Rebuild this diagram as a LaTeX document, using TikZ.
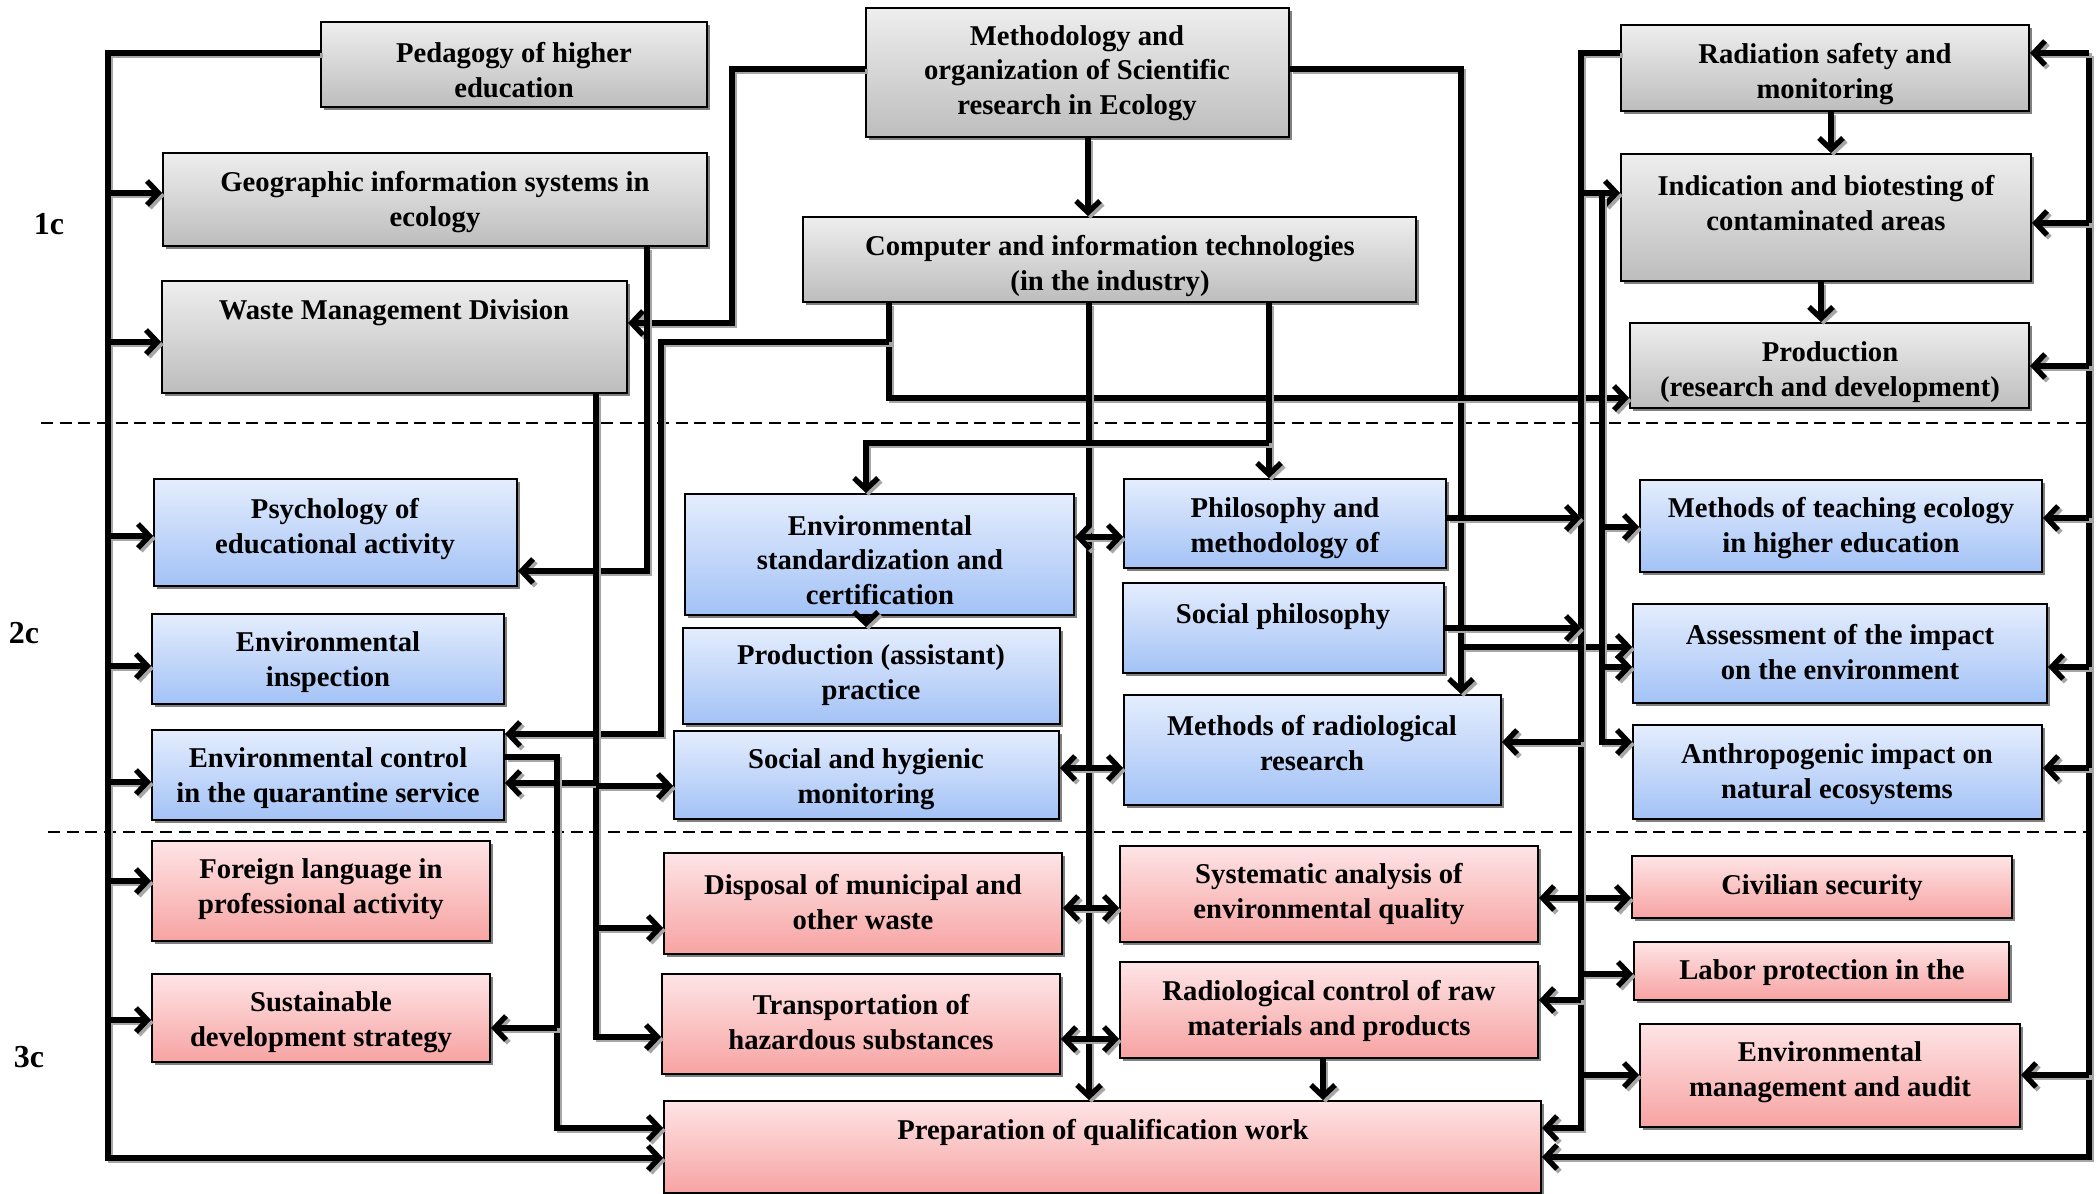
\documentclass[tikz,border=0pt]{standalone}
\usepackage{fontspec}
\setmainfont{Liberation Serif}
\usetikzlibrary{arrows.meta,fit,shadows,calc}
\definecolor{gTop}{HTML}{EEEEEE}
\definecolor{gBot}{HTML}{BDBDBD}
\definecolor{bTop}{HTML}{E4EDFD}
\definecolor{bBot}{HTML}{A3C2F6}
\definecolor{pTop}{HTML}{FEE4E6}
\definecolor{pBot}{HTML}{F7A3A2}
\tikzset{
  x=0.75pt, y=-0.75pt,
  >={Straight Barb[length=8.5pt,width=18pt]},
  bx/.style={draw=black, line width=1.5pt, inner sep=0pt,
    drop shadow={shadow xshift=2.4pt, shadow yshift=-2.4pt, fill=black!50, opacity=1}},
  gbox/.style={bx, top color=gTop, bottom color=gBot},
  bbox/.style={bx, top color=bTop, bottom color=bBot},
  pbox/.style={bx, top color=pTop, bottom color=pBot},
  txt/.style={font=\fontsize{21.5}{26}\selectfont\bfseries, align=center, inner sep=0pt, yshift=-2.2pt},
  lbl/.style={font=\fontsize{24}{27}\selectfont\bfseries, inner sep=0pt},
  ln/.style={line width=4pt, preaction={draw=black!35, line width=4pt, transform canvas={shift={(2pt,-2pt)}}}},
  arr/.style={ln, ->},
  darr/.style={ln, <->},
  sep/.style={line width=1pt, dash pattern=on 9pt off 5pt}
}
\begin{document}
\begin{tikzpicture}
\useasboundingbox (0,0) rectangle (2096,1194);
\fill[white] (0,0) rectangle (2096,1194);

% separators
\draw[sep] (41,423) -- (2092,423);
\draw[sep] (48,832) -- (2092,832);

% level labels
\node[lbl] (l1) at (49,224) {1c};
\node[lbl] (l2) at (24,633) {2c};
\node[lbl] (l3) at (29,1057) {3c};

% ---------- level 1 (gray)
\node[gbox, fit={(321,22) (707,107)}] (ped) {};
\node[txt] (ped-t) at (514,67) {Pedagogy of higher\\education};
\node[gbox, fit={(866,8) (1289,137)}] (meth) {};
\node[txt] (meth-t) at (1077,70) {Methodology and\\organization of Scientific\\research in Ecology};
\node[gbox, fit={(163,153) (707,246)}] (geo) {};
\node[txt] (geo-t) at (435,199) {Geographic information systems in\\ecology};
\node[gbox, fit={(803,217) (1416,302)}] (comp) {};
\node[txt] (comp-t) at (1110,263) {Computer and information technologies\\(in the industry)};
\node[gbox, fit={(162,281) (627,393)}] (waste) {};
\node[txt] (waste-t) at (394,310) {Waste Management Division};
\node[gbox, fit={(1621,25) (2029,111)}] (rad) {};
\node[txt] (rad-t) at (1825,71) {Radiation safety and\\monitoring};
\node[gbox, fit={(1621,154) (2031,281)}] (ind) {};
\node[txt] (ind-t) at (1826,200) {Indication and biotesting of\\contaminated areas};
\node[gbox, fit={(1630,323) (2029,408)}] (prodrd) {};
\node[txt] (prodrd-t) at (1830,369) {Production\\(research and development)};

% ---------- level 2 (blue)
\node[bbox, fit={(154,479) (517,586)}] (psy) {};
\node[txt] (psy-t) at (335,526) {Psychology of\\educational activity};
\node[bbox, fit={(152,614) (504,704)}] (insp) {};
\node[txt] (insp-t) at (328,659) {Environmental\\inspection};
\node[bbox, fit={(152,730) (504,820)}] (ctrl) {};
\node[txt] (ctrl-t) at (328,775) {Environmental control\\in the quarantine service};
\node[bbox, fit={(685,494) (1074,615)}] (std) {};
\node[txt] (std-t) at (880,557) {Environmental\\standardization and\\certification};
\node[bbox, fit={(683,628) (1060,724)}] (prodas) {};
\node[txt] (prodas-t) at (871,672) {Production (assistant)\\practice};
\node[bbox, fit={(674,731) (1059,819)}] (soc) {};
\node[txt] (soc-t) at (866,776) {Social and hygienic\\monitoring};
\node[bbox, fit={(1124,479) (1446,568)}] (phil) {};
\node[txt] (phil-t) at (1285,525) {Philosophy and\\methodology of};
\node[bbox, fit={(1123,583) (1444,673)}] (socphil) {};
\node[txt] (socphil-t) at (1283,614) {Social philosophy};
\node[bbox, fit={(1124,695) (1501,805)}] (radmeth) {};
\node[txt] (radmeth-t) at (1312,740) {Methods of radiological\\research};
\node[bbox, fit={(1640,480) (2042,572)}] (teach) {};
\node[txt] (teach-t) at (1841,525) {Methods of teaching ecology\\in higher education};
\node[bbox, fit={(1633,604) (2047,703)}] (assess) {};
\node[txt] (assess-t) at (1840,649) {Assessment of the impact\\on the environment};
\node[bbox, fit={(1633,725) (2042,819)}] (anthro) {};
\node[txt] (anthro-t) at (1837,771) {Anthropogenic impact on\\natural ecosystems};

% ---------- level 3 (pink)
\node[pbox, fit={(152,841) (490,941)}] (foreign) {};
\node[txt] (foreign-t) at (321,886) {Foreign language in\\professional activity};
\node[pbox, fit={(152,974) (490,1062)}] (sust) {};
\node[txt] (sust-t) at (321,1019) {Sustainable\\development strategy};
\node[pbox, fit={(664,853) (1062,954)}] (disp) {};
\node[txt] (disp-t) at (863,899) {Disposal of municipal and\\other waste};
\node[pbox, fit={(662,974) (1060,1074)}] (transp) {};
\node[txt] (transp-t) at (861,1019) {Transportation of\\hazardous substances};
\node[pbox, fit={(1120,846) (1538,942)}] (syst) {};
\node[txt] (syst-t) at (1329,891) {Systematic analysis of\\environmental quality};
\node[pbox, fit={(1120,962) (1538,1058)}] (radctrl) {};
\node[txt] (radctrl-t) at (1329,1008) {Radiological control of raw\\materials and products};
\node[pbox, fit={(664,1101) (1541,1193)}] (prep) {};
\node[txt] (prep-t) at (1103,1130) {Preparation of qualification work};
\node[pbox, fit={(1632,856) (2012,918)}] (civ) {};
\node[txt] (civ-t) at (1822,885) {Civilian security};
\node[pbox, fit={(1634,942) (2009,1000)}] (labor) {};
\node[txt] (labor-t) at (1822,970) {Labor protection in the};
\node[pbox, fit={(1640,1024) (2020,1127)}] (audit) {};
\node[txt] (audit-t) at (1830,1069) {Environmental\\management and audit};

% bus coordinates
\coordinate (LB) at (108,0);
\coordinate (RB) at (1581,0);
\coordinate (RB2) at (1602,0);
\coordinate (OB) at (2089,0);

% ---------- connectors
% left bus
\draw[arr] (ped.west |- 0,53) -- (LB |- 0,53) -- (LB |- 0,1158) -- (prep.west |- 0,1158);
\foreach \n/\y in {geo/193, waste/342, psy/536, insp/666, ctrl/782, foreign/881, sust/1020}
  \draw[arr] (LB |- 0,\y) -- (\n.west |- 0,\y);

% methodology
\draw[arr] (meth.west |- 0,69) -- (732,69) -- (732,323) -- (waste.east |- 0,323);
\draw[arr] (meth.south -| 1088,0) -- (comp.north -| 1088,0);
\draw[arr] (meth.east |- 0,69) -- (1461,69) -- (radmeth.north -| 1461,0);
\draw[arr] (1461,647) -- (assess.west |- 0,647);

% geographic
\draw[arr] (geo.south -| 647,0) -- (647,571) -- (psy.east |- 0,571);

% computer
\draw[arr] (comp.south -| 889,0) -- (889,398) -- (prodrd.west |- 0,398);
\draw[arr] (889,342) -- (661,342) -- (661,734) -- (ctrl.east |- 0,734);
\draw[arr] (comp.south -| 1089,0) -- (prep.north -| 1089,0);
\draw[arr] (comp.south -| 1269,0) -- (phil.north -| 1269,0);
\draw[arr] (1269,443) -- (866,443) -- (std.north -| 866,0);

% waste
\draw[arr] (waste.south -| 596,0) -- (596,1037) -- (transp.west |- 0,1037);
\draw[arr] (596,783) -- (ctrl.east |- 0,783);
\draw[arr] (596,786) -- (soc.west |- 0,786);
\draw[arr] (596,928) -- (disp.west |- 0,928);

% environmental control
\draw[arr] (ctrl.east |- 0,757) -- (557,757) -- (557,1128) -- (prep.west |- 0,1128);
\draw[arr] (557,1028) -- (sust.east |- 0,1028);

% middle links
\draw[darr] (std.east |- 0,537) -- (phil.west |- 0,537);
\draw[arr] (std.south -| 866,0) -- (prodas.north -| 866,0);
\draw[darr] (soc.east |- 0,768) -- (radmeth.west |- 0,768);
\draw[darr] (disp.east |- 0,908) -- (syst.west |- 0,908);
\draw[darr] (transp.east |- 0,1039) -- (radctrl.west |- 0,1039);
\draw[arr] (radctrl.south -| 1323,0) -- (prep.north -| 1323,0);
\draw[darr] (syst.east |- 0,898) -- (civ.west |- 0,898);

% radiation bus
\draw[arr] (rad.west |- 0,53) -- (RB |- 0,53) -- (RB |- 0,1128) -- (prep.east |- 0,1128);
\foreach \n/\y in {ind/193, labor/974, audit/1075}
  \draw[arr] (RB |- 0,\y) -- (\n.west |- 0,\y);
\draw[arr] (RB |- 0,742) -- (radmeth.east |- 0,742);
\draw[arr] (RB |- 0,1000) -- (radctrl.east |- 0,1000);
\draw[arr] (phil.east |- 0,518) -- (RB |- 0,518);
\draw[arr] (socphil.east |- 0,628) -- (RB |- 0,628);

% second bus
\draw[arr] (RB2 |- 0,196) -- (RB2 |- 0,742) -- (anthro.west |- 0,742);
\draw[arr] (RB2 |- 0,527) -- (teach.west |- 0,527);
\draw[arr] (RB2 |- 0,667) -- (assess.west |- 0,667);

% outer right bus
\draw[arr] (OB |- 0,53) -- (OB |- 0,1157) -- (prep.east |- 0,1157);
\draw[arr] (OB |- 0,53) -- (rad.east |- 0,53);
\foreach \n/\y in {ind/223, prodrd/366, teach/518, assess/667, anthro/768, audit/1075}
  \draw[arr] (OB |- 0,\y) -- (\n.east |- 0,\y);

% right column vertical links
\draw[arr] (rad.south -| 1831,0) -- (ind.north -| 1831,0);
\draw[arr] (ind.south -| 1821,0) -- (prodrd.north -| 1821,0);
\end{tikzpicture}
\end{document}
